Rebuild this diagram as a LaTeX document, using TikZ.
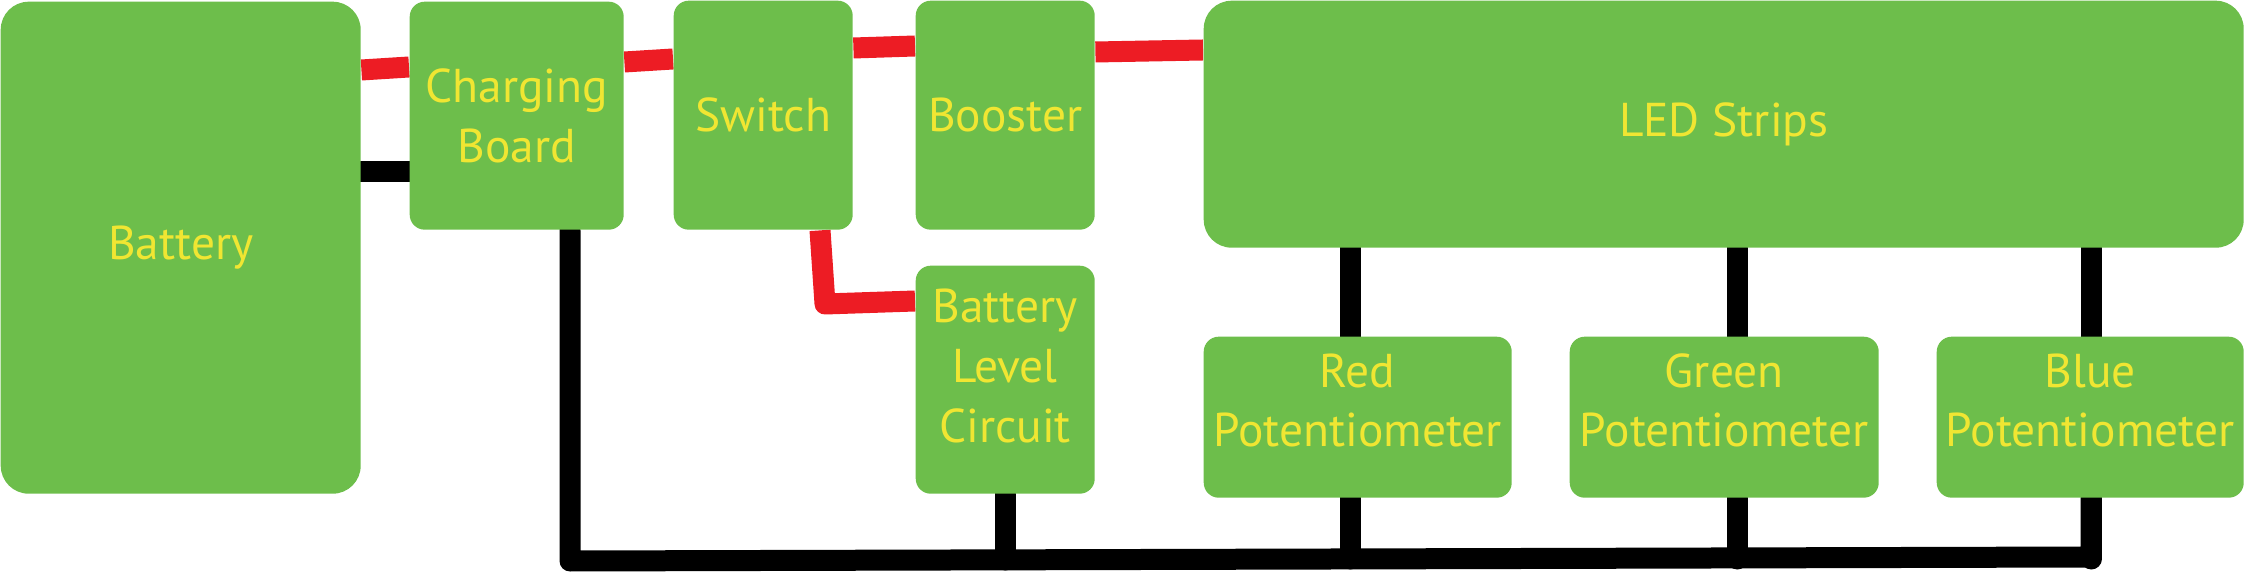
\documentclass[tikz,border=0pt]{standalone}
\usepackage{fontspec}
\setmainfont{PT Sans}
\usetikzlibrary{backgrounds}
\definecolor{boardgreen}{RGB}{109,190,75}
\definecolor{labelyellow}{RGB}{240,230,50}
\definecolor{wirered}{RGB}{237,28,36}
\newcommand{\WireWidth}{2.1mm}
\newcommand{\BigRadius}{2.8mm}
\newcommand{\SmallRadius}{1.5mm}
\tikzset{
  block/.style={
    rectangle, anchor=north west, inner sep=0pt, fill=boardgreen,
    rounded corners=\SmallRadius, text=labelyellow, align=center,
    font=\fontsize{13.5}{17}\selectfont
  },
  bigblock/.style={block, rounded corners=\BigRadius},
  lowtext/.style={text depth=#1},
  wirepos/.style={draw=wirered, line width=\WireWidth, line join=round},
  wireneg/.style={draw=black, line width=\WireWidth, line join=round, line cap=round}
}

\begin{document}
\begin{tikzpicture}[x=0.1mm,y=-0.1mm]
  \useasboundingbox (0,0) rectangle (2245,572);

  \node[bigblock, minimum width=36mm, minimum height=49.2mm] (battery) at (0,1) {Battery};
  \node[block, minimum width=21.4mm, minimum height=22.8mm] (charging) at (409,1) {Charging\\Board};
  \node[block, minimum width=17.9mm, minimum height=22.9mm] (switch) at (673,0) {Switch};
  \node[block, minimum width=17.9mm, minimum height=22.9mm] (booster) at (915,0) {Booster};
  \node[block, minimum width=17.9mm, minimum height=22.8mm, lowtext=2.8mm] (batlevel) at (915,265) {Battery\\Level\\Circuit};
  \node[bigblock, minimum width=104mm, minimum height=24.7mm] (led) at (1203,0) {LED Strips};
  \node[block, minimum width=30.8mm, minimum height=16.1mm, lowtext=3.4mm] (redpot) at (1203,336) {Red\\Potentiometer};
  \node[block, minimum width=30.9mm, minimum height=16.1mm, lowtext=3.4mm] (greenpot) at (1569,336) {Green\\Potentiometer};
  \node[block, minimum width=30.7mm, minimum height=16.1mm, lowtext=3.4mm] (bluepot) at (1936,336) {Blue\\Potentiometer};

  \coordinate (swbend) at (825,304);
  \coordinate (gndstart) at (570,561);
  \coordinate (gndend) at (2091,557);

  \begin{scope}[on background layer]
    \draw[wirepos] (battery.east |- 0,70) -- (charging.west |- 0,67);
    \draw[wirepos] (charging.east |- 0,62) -- (switch.west |- 0,59);
    \draw[wirepos] (switch.east |- 0,48) -- (booster.west |- 0,46);
    \draw[wirepos] (booster.east |- 0,52) -- (led.west |- 0,50);
    \draw[wirepos] (switch.south -| 820,0) -- (swbend) -- (batlevel.west |- 0,301);

    \draw[wireneg] (battery.east |- 0,172) -- (charging.west |- 0,172);
    \draw[wireneg] (charging.south -| gndstart) -- (gndstart) -- (gndend) -- (bluepot.south -| gndend);
    \draw[wireneg] (batlevel.south -| 1005,0) -- (1005,560);
    \foreach \pot/\tx in {redpot/1350, greenpot/1737, bluepot/2091} {
      \draw[wireneg] (led.south -| \tx,0) -- (\pot.north -| \tx,0);
      \draw[wireneg] (\pot.south -| \tx,0) -- (\tx,559);
    }
  \end{scope}
\end{tikzpicture}
\end{document}
